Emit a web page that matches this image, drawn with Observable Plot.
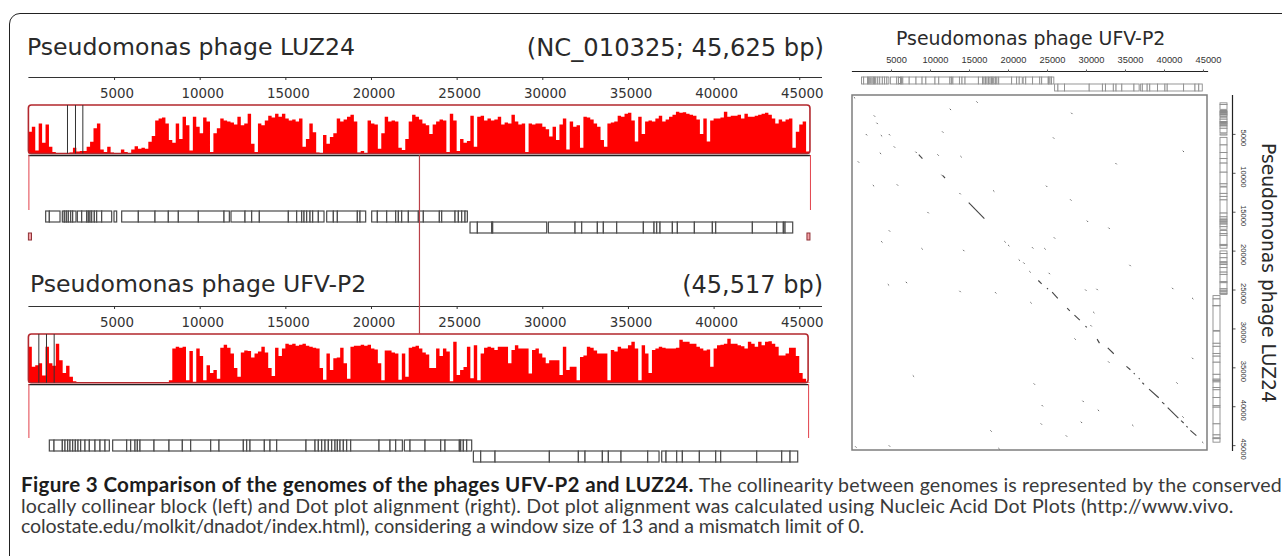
<!DOCTYPE html>
<html><head><meta charset="utf-8">
<script src="https://cdn.jsdelivr.net/npm/d3@7"></script>
<script src="https://cdn.jsdelivr.net/npm/@observablehq/plot@0.6"></script>
<style>
html,body{margin:0;padding:0;background:#fff}
#stage{position:relative;width:1282px;height:556px;overflow:hidden;background:#fff}
#border{position:absolute;left:9px;top:13px;width:1400px;height:700px;border:1.5px solid #222;border-radius:11px;box-sizing:border-box}
.t{position:absolute;font-family:"DejaVu Sans",sans-serif;color:#2a2a2a;white-space:nowrap;line-height:1}
#caption{position:absolute;left:21px;top:474px;width:1261px;font-family:"Lato",sans-serif;color:#3a3a3a;font-size:19.6px;line-height:20.7px;white-space:nowrap}
#caption b{color:#1c1c1c;font-weight:700;font-size:20.6px;letter-spacing:.3px}
</style></head><body><div id="stage"><div id="border"></div></div>
<script>
const tickValues = [5000,10000,15000,20000,25000,30000,35000,40000,45000];
const binSize = 200;
const luzLength = 45625;
const ufvLength = 45517;
const linkPosition = 22800;
const luzCoverage = [45,55,6,62,22,60,14,3,0,0,0,0,2,12,4,5,5,14,24,52,62,8,3,14,2,0,0,8,3,0,8,15,10,12,10,24,36,68,72,74,62,28,22,62,30,76,58,6,76,55,42,74,66,3,42,52,72,68,66,64,60,76,58,62,82,20,3,62,58,68,78,74,82,76,82,72,68,70,66,72,14,30,62,44,2,1,38,20,34,42,72,66,70,76,80,66,2,5,1,68,62,60,10,42,76,66,68,66,12,7,30,66,80,76,70,62,58,40,60,66,70,68,3,82,68,5,30,22,26,78,14,76,78,68,72,68,70,76,60,64,62,80,66,60,62,3,62,60,62,62,55,50,35,55,28,60,72,8,66,55,58,12,76,74,70,62,55,28,14,62,64,66,78,76,82,84,68,25,76,40,66,68,66,72,78,66,70,76,80,86,84,85,82,80,78,70,40,72,25,68,72,72,74,86,76,78,78,80,72,82,76,76,78,80,82,84,80,72,62,70,66,70,72,12,45,60,66,4];
const ufvCoverage = [74,33,36,40,15,74,40,35,80,46,20,35,12,3,0,0,0,0,0,0,0,0,0,0,0,0,0,0,0,0,0,0,0,0,0,0,0,0,0,0,0,5,70,74,72,74,5,65,2,70,55,5,36,20,26,8,72,78,72,60,30,12,62,66,65,52,60,64,74,62,30,14,72,55,70,80,78,80,76,78,80,76,74,72,70,30,6,60,26,50,52,72,40,8,74,76,76,78,76,78,70,68,40,5,66,66,62,60,6,60,12,72,74,76,70,62,58,30,30,70,55,70,64,3,84,16,26,32,74,9,77,5,60,72,74,72,67,74,74,74,40,67,77,70,70,70,19,67,70,60,52,40,46,46,46,16,74,26,33,33,5,53,56,74,72,66,60,60,60,5,67,64,74,70,70,77,84,70,5,77,60,20,67,70,74,72,70,70,70,72,88,84,84,80,80,74,70,66,68,33,70,77,78,80,90,80,80,77,75,70,84,80,74,84,77,84,85,80,74,56,56,60,72,72,55,20,8,1];
const luzMarkers = [2253,2720,3149];
const ufvMarkers = [580,1027,1475];
const luzEndBlocks = [[0,180],[45450,45625]];
const luzUpper = [
 [1008,1222,1845],[1981,2098,2215,2331,2468,2584,2779],
 [2857,3110,3402,3499,3596,3694,3849,3985,4277,4861],[4997,5153],
 [5445,6418,7391,8169,8753,9921,11419,11731],
 [11828,12645,13034,13482,15175,15661,15953,16090,16245,16440,16595,16926,17257],
 [17413,17802,18036,19203,19359,19689],
 [20040,20371,20916,21441,21597,21791,22181,22765,23056,23991,24127,24905,25100,25294,25489,25625]];
const luzLower = [
 [25781,26209,27046,27104,30257],
 [30354,31911,32300,33215,33565,34343,35900,36523,36679,36873,37594,37885,38878,39929,40123,42264,43684,44073,44171,44618]];
const ufvUpper = [
 [1222,1495,1981,2137,2292,2429,2584,2740,2896,3051,3304,3557,3888,4180,4472,4725],
 [4919,5737,5970,6223,6360,6515,7333,8208,8987,9473,10641,11127,12548,12742,12937,13774,14105,14494,16206,16732,16926,17121,17316,17510,17705,17899,18036,18191,18386,18580,18814,20468,21110,21441,21831],
 [21947,22278,23154,24069,24321,25158,25236,25391,25586,25878]];
const ufvLower = [
 [25976,26404,27241,30413,32106,32495,33507,33857,34596,36153,36815],
 [36971,37223,37846,38178,39170,40123,40415,42517,43976,44463,44910]];
// Dot plot: single hits (UFV-P2 position, LUZ24 position)
const hitsUfv = [15884,12468,2732,3074,11486,1707,3629,4654,5294,3501,8070,10888,13834,682,11400,2604,5678,18019,24808,13706,9607,4654,3671,25705,170,28032,42337,33712,27904,30039,32815,25812,8838,14176,19470,19940,23015,24594,21307,21904,22673,25150,4525,6831,13706,18275,22801,7728,23228,24253,24125,17677,341,4654,18702,35505,29826,31278,40971,43533,30851,30509,28459,43533,32772,41526,29484,31448,42294,29271,35847,27349,44813];
const hitsLuz = [760,1702,2558,3500,4612,4955,5083,4955,6538,7352,7223,7566,7780,8464,10176,11503,11418,12188,11589,12530,14970,17324,18726,5383,203,2216,7095,8678,13344,16083,16982,18223,19624,19838,18726,19196,19496,19624,21080,21465,22578,22792,24247,23947,25103,25274,26558,35974,37001,39783,42137,43036,45090,44962,45304,21764,24932,24846,24718,26002,27799,29511,31223,33706,34176,36873,39227,40382,41238,41923,42308,43678,44491];
// Dot plot: longer diagonal runs
const runUfvStart = [8497,11571,14902,23826,24936,25599,27520,28459,29869,31363,32729,35121,36060,36701,37170,38024,39690,40415,42123,42807,43319];
const runLuzStart = [7608,10305,13772,23776,24760,25274,27328,28227,29640,31309,32422,34818,35674,36316,36916,37729,39398,40126,41795,42480,43036];
const runUfvEnd = [8966,11870,16908,24253,25064,26324,27862,29143,30039,31662,33498,35633,36188,36829,37384,39263,39988,41782,42465,42977,44088];
const runLuzEnd = [8122,10604,15826,24204,24889,26087,27671,28869,29811,31822,33192,35246,35803,36445,37130,38842,39655,41452,42094,42651,43721];
const hitLength = 170;

const stage = document.getElementById("stage");
const svgStyle = {position:"absolute",left:"0px",top:"0px",background:"transparent",overflow:"visible"};
const add = o => stage.appendChild(Plot.plot({style:svgStyle,...o}));
const genes = (blocks,row) => blocks.flatMap(b => d3.pairs(b).map(([a,z]) => ({a,z,row})));
const leftAxisDomain = [0,46270];
const LEFT = {width:821,marginLeft:28.4,marginRight:0,height:556};
const RED = "#ff0000", FRAME = "#b3272d", LINE = "#333";
const leftFont = "DejaVu Sans", rightFont = "Liberation Sans";

function rulerPlot(top){
  add({...LEFT,marginTop:top,marginBottom:556-top,x:{domain:leftAxisDomain,axis:null},marks:[
    Plot.frame({anchor:"top",stroke:LINE,strokeWidth:1}),
    Plot.axisX(tickValues,{anchor:"bottom",tickSize:3,fill:"none",stroke:LINE}),
    Plot.axisX(tickValues,{anchor:"bottom",tickSize:3,tickPadding:8,stroke:"none",fill:"#333",dx:2.5,fontSize:13.4,fontFamily:leftFont,tickFormat:d=>String(d),label:null})
  ]});
}
function coveragePlot(top,bottom,values,len,markers,baseDy){
  add({...LEFT,marginTop:top,marginBottom:556-bottom,
    x:{domain:leftAxisDomain,axis:null},y:{domain:[0,100],axis:null},marks:[
    Plot.areaY([...values,0],{x:(d,i)=>i*binSize,y1:0,y2:d=>d,fill:RED,curve:"step-after"}),
    Plot.rect([[0,len]],{x1:d=>d[0],x2:d=>d[1],y1:()=>0,y2:()=>100,fill:"none",stroke:FRAME,strokeWidth:1.6,rx:3}),
    Plot.ruleY([0],{x1:0,x2:len,stroke:"#222",strokeWidth:1.3,dy:baseDy}),
    Plot.ruleX(markers,{y1:0,y2:100,stroke:"#333",strokeWidth:1})
  ]});
}
function linkPlot(top,bottom,positions,color,w){
  add({...LEFT,marginTop:top,marginBottom:556-bottom,x:{domain:leftAxisDomain,axis:null},marks:[
    Plot.ruleX(positions,{stroke:color,strokeWidth:w})
  ]});
}
function genePlot(rowsTop,rowsBottom,upper,lower){
  add({...LEFT,x:{domain:leftAxisDomain,axis:null},
    y:{type:"band",domain:["upper","lower"],range:[rowsTop,rowsBottom],padding:0,axis:null},marks:[
    Plot.barX([...genes(upper,"upper"),...genes(lower,"lower")],{x1:"a",x2:"z",y:"row",fill:"#fff",stroke:"#4a4a4a",strokeWidth:1.2})
  ]});
}
// Left: LUZ24
rulerPlot(77);
coveragePlot(105,153.5,luzCoverage,luzLength,luzMarkers,1.5);
linkPlot(155,210,[0,luzLength],"#e2404a",1);
genePlot(210.5,233,luzUpper,luzLower);
add({...LEFT,marginTop:233,marginBottom:316,x:{domain:leftAxisDomain,axis:null},marks:[
  Plot.rect(luzEndBlocks,{x1:d=>d[0],x2:d=>d[1],y1:()=>0,y2:()=>1,fill:"#f4a3a8",stroke:"#8e3035",strokeWidth:1})
],y:{domain:[0,1],axis:null}});
// Left: UFV-P2
rulerPlot(306);
coveragePlot(334,382.7,ufvCoverage,ufvLength,ufvMarkers,1.5);
linkPlot(384,438,[0,ufvLength],"#e2404a",1);
genePlot(439.5,462,ufvUpper,ufvLower);
linkPlot(155,334,[linkPosition],"#bb4048",1.2);

// Right: dot plot
const DX = {width:1207,marginLeft:852,marginRight:0,x:{domain:[0,ufvLength],axis:null}};
const YR = {domain:[0,luzLength],range:[95,450],axis:null};
add({...DX,height:200,marginTop:71,marginBottom:129,marks:[
  Plot.frame({anchor:"top",stroke:"#222",strokeWidth:1.2}),
  Plot.axisX(tickValues,{anchor:"top",tickSize:2.5,fill:"none",stroke:"#555"}),
  Plot.axisX(tickValues,{anchor:"top",tickSize:2.5,tickPadding:6,stroke:"none",fill:"#333",dx:5,fontSize:9.3,fontFamily:rightFont,tickFormat:d=>String(d),label:null})
]});
add({...DX,height:120,marginTop:0,marginBottom:0,
  y:{type:"band",domain:["upper","lower"],range:[76.5,91.5],padding:0.06,axis:null},marks:[
  Plot.barX([...genes(ufvUpper,"upper"),...genes(ufvLower,"lower")],{x1:"a",x2:"z",y:"row",fill:"#fff",stroke:"#8c8c8c",strokeWidth:.9})
]});
add({...DX,height:556,y:YR,marks:[
  Plot.rect([[0,ufvLength]],{x1:d=>d[0],x2:d=>d[1],y1:()=>0,y2:()=>luzLength,fill:"#fff",stroke:"#7d7d7d",strokeWidth:1.5}),
  Plot.link(hitsUfv,{x1:d=>d,y1:(d,i)=>hitsLuz[i],x2:d=>d+hitLength,y2:(d,i)=>hitsLuz[i]+hitLength,stroke:"#666",strokeWidth:1}),
  Plot.link(runUfvStart,{x1:d=>d,y1:(d,i)=>runLuzStart[i],x2:(d,i)=>runUfvEnd[i],y2:(d,i)=>runLuzEnd[i],stroke:"#444",strokeWidth:1.1})
]});
// Right: LUZ24 genes and ruler, vertical
add({width:1282,height:556,marginTop:0,marginBottom:0,
  x:{type:"band",domain:["lower","upper"],range:[1212.5,1227.5],padding:0.06,axis:null},y:YR,marks:[
  Plot.barY([...genes(luzUpper,"upper"),...genes(luzLower,"lower")],{y1:"a",y2:"z",x:"row",fill:"#fff",stroke:"#8c8c8c",strokeWidth:.9})
]});
add({width:1282,height:556,marginLeft:1232,marginRight:50,marginTop:95,marginBottom:106,
  y:{domain:[0,luzLength],range:[95,450],axis:null},marks:[
  Plot.frame({anchor:"right",stroke:"#222",strokeWidth:1.2}),
  Plot.axisY(tickValues,{anchor:"right",tickSize:2.5,fill:"none",stroke:"#555"}),
  Plot.axisY(tickValues,{anchor:"right",tickSize:2.5,tickPadding:11,tickRotate:90,stroke:"none",fill:"#333",dy:3.5,fontSize:7.6,fontFamily:rightFont,tickFormat:d=>String(d),label:null})
]});

// Titles and caption (real text)
const titles = [
 ["Pseudomonas phage LUZ24",{left:"27px",top:"36px",fontSize:"23.6px"}],
 ["(NC_010325; 45,625 bp)",{right:"458px",top:"36px",fontSize:"24.2px"}],
 ["Pseudomonas phage UFV-P2",{left:"30px",top:"273px",fontSize:"23.6px"}],
 ["(45,517 bp)",{right:"459px",top:"273px",fontSize:"24px"}],
 ["Pseudomonas phage UFV-P2",{left:"896px",top:"29px",fontSize:"18.9px"}],
 ["Pseudomonas phage LUZ24",{left:"1258px",top:"143px",fontSize:"18.7px",writingMode:"vertical-rl"}]
];
for (const [txt,s] of titles){
  const el=document.createElement("div"); el.className="t"; el.textContent=txt; Object.assign(el.style,s); stage.appendChild(el);
}
const cap=document.createElement("div"); cap.id="caption";
cap.innerHTML='<b>Figure 3 Comparison of the genomes of the phages UFV-P2 and LUZ24.</b> <span style="letter-spacing:.17px">The collinearity between genomes is represented by the conserved</span><br><span style="letter-spacing:.19px">locally collinear block (left) and Dot plot alignment (right). Dot plot alignment was calculated using Nucleic Acid Dot Plots (http://www.vivo.</span><br><span style="letter-spacing:-.14px">colostate.edu/molkit/dnadot/index.html), considering a window size of 13 and a mismatch limit of 0.</span>';
stage.appendChild(cap);
</script></body></html>
